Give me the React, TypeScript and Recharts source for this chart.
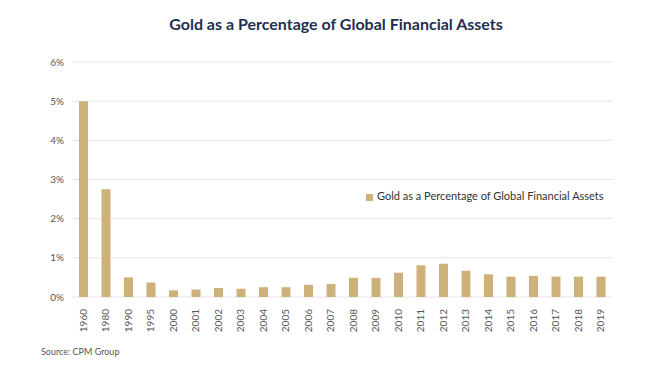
import { Bar, BarChart, CartesianGrid, Legend, XAxis, YAxis } from "recharts";

const years = [
  "1960", "1980", "1990", "1995", "2000", "2001", "2002", "2003", "2004", "2005", "2006", "2007",
  "2008", "2009", "2010", "2011", "2012", "2013", "2014", "2015", "2016", "2017", "2018", "2019",
];

// percent of global financial assets
const goldShare = [
  5.0, 2.75, 0.5, 0.37, 0.17, 0.19, 0.23, 0.21, 0.25, 0.25, 0.31, 0.33,
  0.49, 0.49, 0.62, 0.81, 0.85, 0.67, 0.58, 0.52, 0.54, 0.52, 0.52, 0.52,
];

const yTicks = [0, 1, 2, 3, 4, 5, 6];

const seriesName = "Gold as a Percentage of Global Financial Assets";

const data = years.map((year, i) => ({ year, share: goldShare[i] }));

const GOLD = "#CDB07A";
const FONT = "Lato, 'Open Sans', sans-serif";

function YearTick(props: any) {
  const { x, y, payload } = props;
  return (
    <g transform={`translate(${x},${y})`}>
      <text
        transform="rotate(-90)"
        x={-4}
        y={0}
        dy="0.35em"
        textAnchor="end"
        fill="#555"
        fontSize={10}
        fontFamily={FONT}
      >
        {payload.value}
      </text>
    </g>
  );
}

export default function App() {
  return (
    <div
      style={{
        position: "absolute",
        left: 0,
        top: 0,
        width: 657,
        height: 369,
        background: "#fff",
        overflow: "hidden",
      }}
    >
      <div
        style={{
          position: "absolute",
          top: 14,
          left: 0,
          width: 672,
          textAlign: "center",
          fontFamily: FONT,
          fontWeight: 700,
          fontSize: 16,
          color: "#1F2F4F",
        }}
      >
        {seriesName}
      </div>
      <BarChart
        width={657}
        height={369}
        data={data}
        margin={{ top: 62, right: 45, bottom: 0, left: 0 }}
        barSize={9}
      >
        <CartesianGrid vertical={false} stroke="#e6e6e6" />
        <XAxis
          dataKey="year"
          interval={0}
          height={72}
          axisLine={false}
          tickLine={false}
          tick={<YearTick />}
        />
        <YAxis
          width={72}
          domain={[0, 6]}
          ticks={yTicks}
          axisLine={false}
          tickLine={false}
          tickFormatter={(v) => `${v}%`}
          tick={{ fill: "#555", fontSize: 10, fontFamily: FONT }}
        />
        <Legend
          layout="horizontal"
          align="center"
          verticalAlign="middle"
          iconType="square"
          iconSize={7}
          wrapperStyle={{ left: 366, top: 189, width: "auto", fontFamily: FONT, fontSize: 11 }}
          formatter={(value) => <span style={{ color: "#333" }}>{value}</span>}
        />
        <Bar dataKey="share" name={seriesName} fill={GOLD} isAnimationActive={false} />
      </BarChart>
      <div
        style={{
          position: "absolute",
          left: 41,
          top: 346,
          fontFamily: FONT,
          fontSize: 9,
          color: "#555",
        }}
      >
        Source: CPM Group
      </div>
    </div>
  );
}
